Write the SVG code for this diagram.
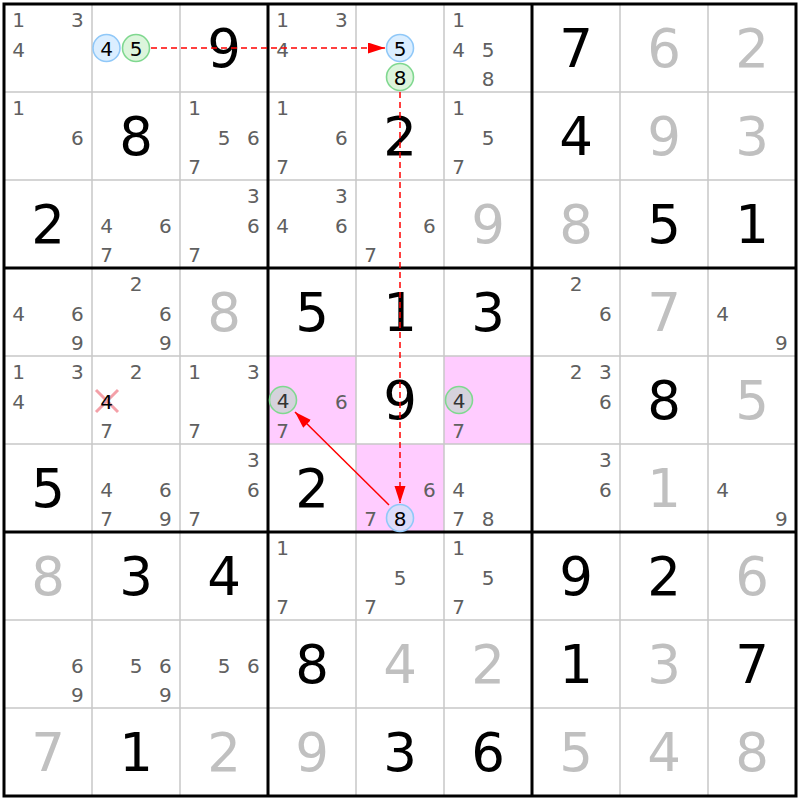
<svg xmlns="http://www.w3.org/2000/svg" width="800" height="800" viewBox="0 0 800 800">
<style>
text{font-family:"DejaVu Sans",Verdana,sans-serif;text-anchor:middle}
.c{font-size:20px;fill:#606060}
.k{font-size:20px;fill:#000}
.kd{font-size:20px;fill:#333}
.g{font-size:53px;fill:#000}
.s{font-size:53px;fill:#c0c0c0}
.thin{stroke:#c8c8c8;stroke-width:1.5}
.thick{stroke:#000;stroke-width:3}
.cb{fill:#dbeeff;stroke:#90c8f8;stroke-width:1.6}
.cg{fill:#dcf5dc;stroke:#80d890;stroke-width:1.6}
.pk{fill:#ffccff}
.arr{stroke:#ff0000;stroke-width:1.5;fill:none}
.dash{stroke-dasharray:6 4}
</style>
<defs>
<marker id="ah" markerUnits="userSpaceOnUse" markerWidth="18" markerHeight="12" refX="17" refY="5.5" orient="auto">
<path d="M0,0 L17,5.5 L0,11 z" fill="#ff0000"/>
</marker>
</defs>
<rect x="0" y="0" width="800" height="800" fill="#fff"/>
<g id="highlights">
<rect class="pk" x="268" y="356" width="88" height="88"/>
<rect class="pk" x="444" y="356" width="88" height="88"/>
<rect class="pk" x="356" y="444" width="88" height="88"/>
</g>
<g id="grid">
<path class="thin" d="M92 4V796M180 4V796M356 4V796M444 4V796M620 4V796M708 4V796M4 92H796M4 180H796M4 356H796M4 444H796M4 620H796M4 708H796"/>
<path class="thick" d="M268 4V796M532 4V796M4 268H796M4 532H796"/>
<rect x="4" y="4" width="792" height="792" fill="none" stroke="#000" stroke-width="3"/>
</g>
<g id="r1c1"><text class="c" x="18.5" y="27">1</text><text class="c" x="77.3" y="27">3</text><text class="c" x="18.5" y="56.5">4</text></g>
<g id="r1c2"><circle class="cb" cx="106.5" cy="48" r="13.5"/><circle class="cg" cx="136" cy="48" r="13.5"/><text class="k" x="106.5" y="55.5">4</text><text class="k" x="136" y="55.5">5</text></g>
<g id="r1c3"><text class="g" x="224" y="67">9</text></g>
<g id="r1c4"><text class="c" x="282.5" y="27">1</text><text class="c" x="341.3" y="27">3</text><text class="c" x="282.5" y="56.5">4</text></g>
<g id="r1c5"><circle class="cb" cx="400" cy="48" r="13.5"/><circle class="cg" cx="400" cy="77" r="13.5"/><text class="k" x="400" y="55.5">5</text><text class="k" x="400" y="84.5">8</text></g>
<g id="r1c6"><text class="c" x="458.5" y="27">1</text><text class="c" x="458.5" y="56.5">4</text><text class="c" x="488" y="56.5">5</text><text class="c" x="488" y="85.5">8</text></g>
<g id="r1c7"><text class="g" x="576" y="67">7</text></g>
<g id="r1c8"><text class="s" x="664" y="67">6</text></g>
<g id="r1c9"><text class="s" x="752" y="67">2</text></g>
<g id="r2c1"><text class="c" x="18.5" y="115">1</text><text class="c" x="77.3" y="144.5">6</text></g>
<g id="r2c2"><text class="g" x="136" y="155">8</text></g>
<g id="r2c3"><text class="c" x="194.5" y="115">1</text><text class="c" x="224" y="144.5">5</text><text class="c" x="253.3" y="144.5">6</text><text class="c" x="194.5" y="173.5">7</text></g>
<g id="r2c4"><text class="c" x="282.5" y="115">1</text><text class="c" x="341.3" y="144.5">6</text><text class="c" x="282.5" y="173.5">7</text></g>
<g id="r2c5"><text class="g" x="400" y="155">2</text></g>
<g id="r2c6"><text class="c" x="458.5" y="115">1</text><text class="c" x="488" y="144.5">5</text><text class="c" x="458.5" y="173.5">7</text></g>
<g id="r2c7"><text class="g" x="576" y="155">4</text></g>
<g id="r2c8"><text class="s" x="664" y="155">9</text></g>
<g id="r2c9"><text class="s" x="752" y="155">3</text></g>
<g id="r3c1"><text class="g" x="48" y="243">2</text></g>
<g id="r3c2"><text class="c" x="106.5" y="232.5">4</text><text class="c" x="165.3" y="232.5">6</text><text class="c" x="106.5" y="261.5">7</text></g>
<g id="r3c3"><text class="c" x="253.3" y="203">3</text><text class="c" x="253.3" y="232.5">6</text><text class="c" x="194.5" y="261.5">7</text></g>
<g id="r3c4"><text class="c" x="341.3" y="203">3</text><text class="c" x="282.5" y="232.5">4</text><text class="c" x="341.3" y="232.5">6</text></g>
<g id="r3c5"><text class="c" x="429.3" y="232.5">6</text><text class="c" x="370.5" y="261.5">7</text></g>
<g id="r3c6"><text class="s" x="488" y="243">9</text></g>
<g id="r3c7"><text class="s" x="576" y="243">8</text></g>
<g id="r3c8"><text class="g" x="664" y="243">5</text></g>
<g id="r3c9"><text class="g" x="752" y="243">1</text></g>
<g id="r4c1"><text class="c" x="18.5" y="320.5">4</text><text class="c" x="77.3" y="320.5">6</text><text class="c" x="77.3" y="349.5">9</text></g>
<g id="r4c2"><text class="c" x="136" y="291">2</text><text class="c" x="165.3" y="320.5">6</text><text class="c" x="165.3" y="349.5">9</text></g>
<g id="r4c3"><text class="s" x="224" y="331">8</text></g>
<g id="r4c4"><text class="g" x="312" y="331">5</text></g>
<g id="r4c5"><text class="g" x="400" y="331">1</text></g>
<g id="r4c6"><text class="g" x="488" y="331">3</text></g>
<g id="r4c7"><text class="c" x="576" y="291">2</text><text class="c" x="605.3" y="320.5">6</text></g>
<g id="r4c8"><text class="s" x="664" y="331">7</text></g>
<g id="r4c9"><text class="c" x="722.5" y="320.5">4</text><text class="c" x="781.3" y="349.5">9</text></g>
<g id="r5c1"><text class="c" x="18.5" y="379">1</text><text class="c" x="77.3" y="379">3</text><text class="c" x="18.5" y="408.5">4</text></g>
<g id="r5c2"><text class="c" x="136" y="379">2</text><path d="M96 390L118 412M118 390L96 412" stroke="#f4a0a8" stroke-width="3"/><text class="k" x="106.5" y="408.5">4</text><text class="c" x="106.5" y="437.5">7</text></g>
<g id="r5c3"><text class="c" x="194.5" y="379">1</text><text class="c" x="253.3" y="379">3</text><text class="c" x="194.5" y="437.5">7</text></g>
<g id="r5c4"><circle cx="283" cy="400" r="13.5" fill="#d5d2dc" stroke="#80d890" stroke-width="1.6"/><text class="kd" x="283" y="407.5">4</text><text class="c" x="341.3" y="408.5">6</text><text class="c" x="282.5" y="437.5">7</text></g>
<g id="r5c5"><text class="g" x="400" y="419">9</text></g>
<g id="r5c6"><circle cx="459" cy="400" r="13.5" fill="#d5d2dc" stroke="#80d890" stroke-width="1.6"/><text class="kd" x="459" y="407.5">4</text><text class="c" x="458.5" y="437.5">7</text></g>
<g id="r5c7"><text class="c" x="576" y="379">2</text><text class="c" x="605.3" y="379">3</text><text class="c" x="605.3" y="408.5">6</text></g>
<g id="r5c8"><text class="g" x="664" y="419">8</text></g>
<g id="r5c9"><text class="s" x="752" y="419">5</text></g>
<g id="r6c1"><text class="g" x="48" y="507">5</text></g>
<g id="r6c2"><text class="c" x="106.5" y="496.5">4</text><text class="c" x="165.3" y="496.5">6</text><text class="c" x="106.5" y="525.5">7</text><text class="c" x="165.3" y="525.5">9</text></g>
<g id="r6c3"><text class="c" x="253.3" y="467">3</text><text class="c" x="253.3" y="496.5">6</text><text class="c" x="194.5" y="525.5">7</text></g>
<g id="r6c4"><text class="g" x="312" y="507">2</text></g>
<g id="r6c5"><text class="c" x="429.3" y="496.5">6</text><text class="c" x="370.5" y="525.5">7</text><circle cx="400" cy="518" r="13.5" fill="#dcdcfa" stroke="#90c8f8" stroke-width="1.6"/><text class="k" x="400" y="525.5">8</text></g>
<g id="r6c6"><text class="c" x="458.5" y="496.5">4</text><text class="c" x="458.5" y="525.5">7</text><text class="c" x="488" y="525.5">8</text></g>
<g id="r6c7"><text class="c" x="605.3" y="467">3</text><text class="c" x="605.3" y="496.5">6</text></g>
<g id="r6c8"><text class="s" x="664" y="507">1</text></g>
<g id="r6c9"><text class="c" x="722.5" y="496.5">4</text><text class="c" x="781.3" y="525.5">9</text></g>
<g id="r7c1"><text class="s" x="48" y="595">8</text></g>
<g id="r7c2"><text class="g" x="136" y="595">3</text></g>
<g id="r7c3"><text class="g" x="224" y="595">4</text></g>
<g id="r7c4"><text class="c" x="282.5" y="555">1</text><text class="c" x="282.5" y="613.5">7</text></g>
<g id="r7c5"><text class="c" x="400" y="584.5">5</text><text class="c" x="370.5" y="613.5">7</text></g>
<g id="r7c6"><text class="c" x="458.5" y="555">1</text><text class="c" x="488" y="584.5">5</text><text class="c" x="458.5" y="613.5">7</text></g>
<g id="r7c7"><text class="g" x="576" y="595">9</text></g>
<g id="r7c8"><text class="g" x="664" y="595">2</text></g>
<g id="r7c9"><text class="s" x="752" y="595">6</text></g>
<g id="r8c1"><text class="c" x="77.3" y="672.5">6</text><text class="c" x="77.3" y="701.5">9</text></g>
<g id="r8c2"><text class="c" x="136" y="672.5">5</text><text class="c" x="165.3" y="672.5">6</text><text class="c" x="165.3" y="701.5">9</text></g>
<g id="r8c3"><text class="c" x="224" y="672.5">5</text><text class="c" x="253.3" y="672.5">6</text></g>
<g id="r8c4"><text class="g" x="312" y="683">8</text></g>
<g id="r8c5"><text class="s" x="400" y="683">4</text></g>
<g id="r8c6"><text class="s" x="488" y="683">2</text></g>
<g id="r8c7"><text class="g" x="576" y="683">1</text></g>
<g id="r8c8"><text class="s" x="664" y="683">3</text></g>
<g id="r8c9"><text class="g" x="752" y="683">7</text></g>
<g id="r9c1"><text class="s" x="48" y="771">7</text></g>
<g id="r9c2"><text class="g" x="136" y="771">1</text></g>
<g id="r9c3"><text class="s" x="224" y="771">2</text></g>
<g id="r9c4"><text class="s" x="312" y="771">9</text></g>
<g id="r9c5"><text class="g" x="400" y="771">3</text></g>
<g id="r9c6"><text class="g" x="488" y="771">6</text></g>
<g id="r9c7"><text class="s" x="576" y="771">5</text></g>
<g id="r9c8"><text class="s" x="664" y="771">4</text></g>
<g id="r9c9"><text class="s" x="752" y="771">8</text></g>
<g id="connectors">
<line class="arr dash" x1="151" y1="48" x2="385" y2="48" marker-end="url(#ah)"/>
<line class="arr dash" x1="400" y1="92" x2="400" y2="503" marker-end="url(#ah)"/>
<line class="arr" x1="389" y1="505" x2="295" y2="412" marker-end="url(#ah)"/>
</g>
</svg>
